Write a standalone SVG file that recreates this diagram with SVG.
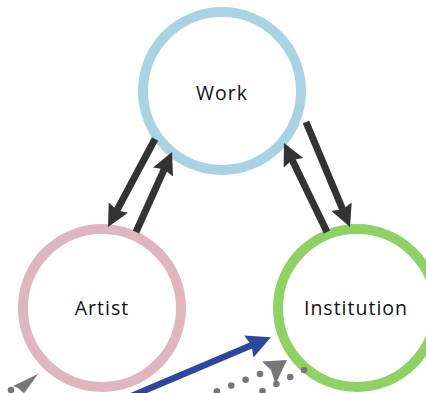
<svg xmlns="http://www.w3.org/2000/svg" width="426" height="393" viewBox="0 0 426 393">
  <defs>
    <style>
      .ring { fill: #ffffff; stroke-width: 10; }
      .label { font-family: "Open Sans", "Noto Sans", sans-serif; font-size: 19.5px; letter-spacing: 1px; fill: #111111; text-anchor: middle; }
      .edge { fill: none; stroke: #333333; stroke-width: 7; marker-end: url(#head); }
      .dots { fill: none; stroke: #777777; stroke-width: 6.6; stroke-linecap: round; stroke-dasharray: 0 15.5; }
      .ghead { fill: #777777; }
    </style>
    <marker id="head" viewBox="0 0 22 22" refX="10" refY="11" markerWidth="22" markerHeight="22" markerUnits="userSpaceOnUse" orient="auto">
      <path d="M0,0 L22,11 L0,22 L3,11 z" fill="#333333"/>
    </marker>
    <marker id="bhead" viewBox="0 0 24 24" refX="10" refY="12" markerWidth="24" markerHeight="24" markerUnits="userSpaceOnUse" orient="auto">
      <path d="M0,0 L24,12 L0,24 L3,12 z" fill="#2d479d"/>
    </marker>
  </defs>

  <g id="work">
    <circle class="ring" cx="222" cy="91" r="79" stroke="#a9d2e2"/>
    <text class="label" x="222" y="100">Work</text>
  </g>
  <g id="artist">
    <circle class="ring" cx="102" cy="308" r="79" stroke="#dfb6bf"/>
    <text class="label" x="102" y="315">Artist</text>
  </g>
  <g id="institution">
    <circle class="ring" cx="357" cy="308" r="79" stroke="#8fd263"/>
    <text class="label" x="356" y="315">Institution</text>
  </g>

  <g id="connectors">
    <line class="edge" x1="155" y1="139" x2="113.7" y2="216.4"/>
    <line class="edge" x1="136" y1="232" x2="167.1" y2="162.9"/>
    <line class="edge" x1="306" y1="122" x2="345.4" y2="215.9"/>
    <line class="edge" x1="327" y1="232" x2="289.2" y2="153.8"/>
    <line x1="115" y1="403" x2="258" y2="342.6" stroke="#2d479d" stroke-width="6.5" marker-end="url(#bhead)"/>
    <path class="dots" d="M260,374 L198,399"/>
    <polygon class="ghead" points="287,360 262,361.5 271,370 275.5,384"/>
    <path class="dots" d="M304,370 L243,401"/>
    <path class="dots" d="M11,390 L0,395"/>
    <polygon class="ghead" points="38,374 13,386 18,388 24,393.5"/>
  </g>
</svg>
